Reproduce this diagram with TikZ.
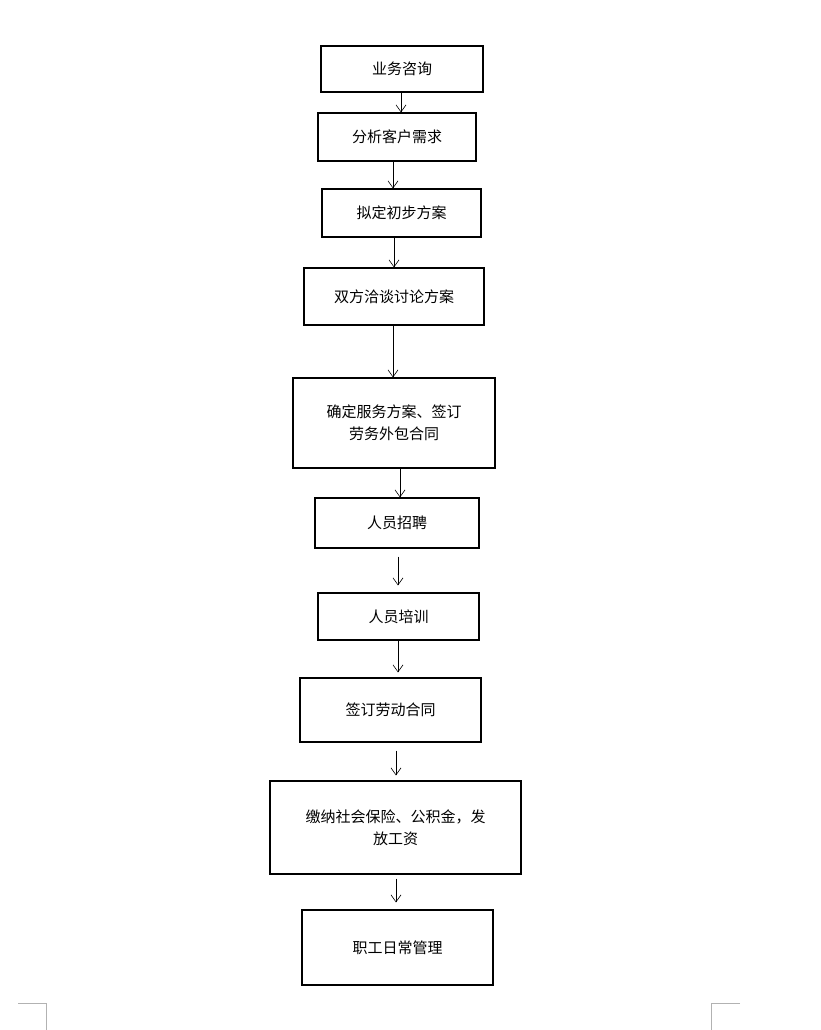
\documentclass[tikz,border=0pt]{standalone}
\usepackage{fontspec}
\setmainfont{Noto Sans CJK SC}
\usetikzlibrary{arrows.meta}
\begin{document}
\begin{tikzpicture}[x=1pt,y=-1pt,
  box/.style={draw,line width=1.2pt,inner sep=0pt,align=center,font=\fontsize{15}{22}\selectfont},
  arr/.style={-{Straight Barb[length=7pt,width=10pt]},line width=0.6pt}]
\useasboundingbox (0,0) rectangle (821,1030);
\newcommand\bx[6]{\node[box,minimum width=#4-#2,minimum height=#5-#3] (#1) at ({(#2+#4)/2},{(#3+#5)/2}) {#6};}
\bx{n1}{321}{46}{483}{92}{业务咨询}
\bx{n2}{318}{113}{476}{161}{分析客户需求}
\bx{n3}{322}{189}{481}{237}{拟定初步方案}
\bx{n4}{304}{268}{484}{325}{双方洽谈讨论方案}
\bx{n5}{293}{378}{495}{468}{确定服务方案、签订\\劳务外包合同}
\bx{n6}{315}{498}{479}{548}{人员招聘}
\bx{n7}{318}{593}{479}{640}{人员培训}
\bx{n8}{300}{678}{481}{742}{签订劳动合同}
\bx{n9}{270}{781}{521}{874}{缴纳社会保险、公积金，发\\放工资}
\bx{n10}{302}{910}{493}{985}{职工日常管理}
\coordinate (c1) at (401,0);
\coordinate (c2) at (393,0);
\coordinate (c3) at (394,0);
\coordinate (c4) at (393,0);
\coordinate (c5) at (400,0);
\coordinate (c6) at (398,0);
\coordinate (c7) at (398,0);
\coordinate (c8) at (396,0);
\coordinate (c9) at (396,0);
\draw[arr] (n1.south -| c1) -- (n2.north -| c1);
\draw[arr] (n2.south -| c2) -- (n3.north -| c2);
\draw[arr] (n3.south -| c3) -- (n4.north -| c3);
\draw[arr] (n4.south -| c4) -- (n5.north -| c4);
\draw[arr] (n5.south -| c5) -- (n6.north -| c5);
\draw[arr,shorten <=8pt,shorten >=7pt] (n6.south -| c6) -- (n7.north -| c6);
\draw[arr,shorten >=5pt] (n7.south -| c7) -- (n8.north -| c7);
\draw[arr,shorten <=8pt,shorten >=5pt] (n8.south -| c8) -- (n9.north -| c8);
\draw[arr,shorten <=4pt,shorten >=7pt] (n9.south -| c9) -- (n10.north -| c9);
\draw[gray!60,line width=0.6pt] (18,1003) -- (46,1003) -- (46,1030);
\draw[gray!60,line width=0.6pt] (740,1003) -- (711,1003) -- (711,1030);
\end{tikzpicture}
\end{document}
